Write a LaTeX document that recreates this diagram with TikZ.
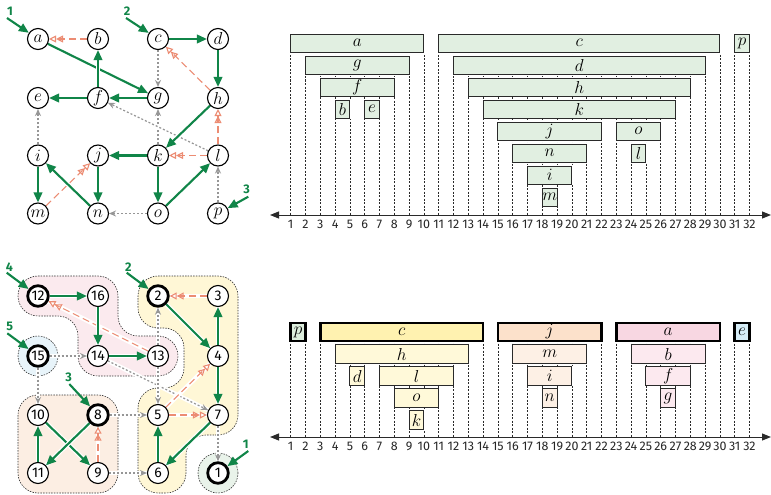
\documentclass[tikz,border=0pt]{standalone}
\usepackage{fontspec}
\setsansfont{Fira Sans}
\usetikzlibrary{arrows.meta}
\pgfdeclarelayer{regions}
\pgfdeclarelayer{edges}
\pgfsetlayers{regions,edges,main}
\definecolor{gr}{RGB}{16,133,72}
\definecolor{sal}{RGB}{236,140,115}
\definecolor{gy}{RGB}{150,150,150}
\definecolor{ink}{HTML}{2A2A2A}
\definecolor{rpink}{HTML}{FBEAEE}
\definecolor{ryel}{HTML}{FFF7D6}
\definecolor{rpeach}{HTML}{FCEEE3}
\definecolor{rblue}{HTML}{E8F4FA}
\definecolor{rgreen}{HTML}{E9F3EA}
\definecolor{tgreen}{HTML}{E1EFE1}
\definecolor{bgreen}{HTML}{DCEDDC}
\definecolor{byel}{HTML}{FFF2B0}
\definecolor{bpeach}{HTML}{FCE1CB}
\definecolor{bpink}{HTML}{F8D7E2}
\definecolor{bblue}{HTML}{D6EDF7}
\definecolor{lyel}{HTML}{FFF9D9}
\definecolor{lpeach}{HTML}{FDF0E5}
\definecolor{lpink}{HTML}{FCE9EF}
\newcommand\tbx[6]{\draw[tbar,#1] (#2,{#4-9.15}) rectangle (#3,{#4+9.15});
  \node[tlab] (#6) at ({(#2+#3)/2},#4) {$#5$};}
\begin{document}
\begin{tikzpicture}[x=1pt,y=-1pt,
  vx/.style={circle,draw=black,line width=1.1pt,fill=white,minimum size=21pt,inner sep=0pt,font=\fontsize{16}{16}\selectfont},
  nv/.style={vx,font=\sffamily\fontsize{14}{14}\selectfont},
  root/.style={nv,line width=2.8pt,minimum size=20.6pt},
  halo/.style={preaction={draw=white,line width=4.5pt,solid,-}},
  tree/.style={halo,draw=gr,line width=2.1pt,-{Triangle[length=10pt,width=8.5pt]}},
  start/.style={draw=gr,line width=2.1pt,-{Triangle[length=10pt,width=8.5pt]}},
  back/.style={halo,draw=sal,line width=1.1pt,dash pattern=on 7pt off 4pt,-{Triangle[open,length=7pt,width=7pt]Triangle[open,length=7pt,width=7pt]}},
  cross/.style={halo,draw=gy,line width=1.2pt,dash pattern=on 2pt off 2pt,-{Stealth[length=7pt,width=6pt]}},
  lbl/.style={text=gr,font=\sffamily\bfseries\fontsize{12.5}{12.5}\selectfont,inner sep=0pt},
  region/.style={draw=black!80,line width=0.6pt,dash pattern=on 1.5pt off 1.2pt},
  tbar/.style={preaction={draw=white,line width=2pt},draw=ink,line width=0.9pt,fill=tgreen},
  tlab/.style={inner sep=0pt,font=\fontsize{16}{16}\selectfont},
  rbar/.style={line width=2.6pt,draw=black},
  tdash/.style={draw=ink,line width=0.45pt,dash pattern=on 2pt off 1.5pt},
  num/.style={font=\sffamily\fontsize{12.5}{13}\selectfont,inner sep=0pt,text=black!85},
  axis/.style={line width=1pt,draw=ink,{Triangle[length=9pt,width=7pt]}-{Triangle[length=9pt,width=7pt]}}
]
\useasboundingbox (0,0) rectangle (771,495);

% ---------- top graph ----------
\foreach \n/\x/\y in {a/38/39,b/98/39,c/158/39,d/218/39,e/38/98,f/98/98,g/158/98,h/218/98,
  i/38/155.5,j/98/155.5,k/158/155.5,l/218/155.5,m/38/213.5,n/98/213.5,o/158/213.5,p/218/213.5}
  \node[vx] (\n) at (\x,\y) {$\n$};

\node[lbl] (s1l) at (10,11) {1};
\node[lbl] (s2l) at (127,11) {2};
\node[lbl] (s3l) at (246.7,189) {3};
\coordinate (s1) at (7,18);
\coordinate (s2) at (126,18);
\coordinate (s3) at (248.3,196.7);

\begin{pgfonlayer}{edges}
\draw[start] (s1) -- (a);
\draw[start] (s2) -- (c);
\draw[start] (s3) -- (p);
\draw[tree] (a) -- (g);
\draw[tree] (f) -- (b);
\draw[back] (b) -- (a);
\draw[tree] (c) -- (d);
\draw[tree] (d) -- (h);
\draw[cross] (c) -- (g);
\draw[back] (h) -- (c);
\draw[tree] (g) -- (f);
\draw[tree] (f) -- (e);
\draw[cross] (k) -- (g);
\draw[cross] (l) -- (f);
\draw[tree] (h) -- (k);
\draw[back] (l) -- (h);
\draw[back] (l) -- (k);
\draw[tree] (k) -- (j);
\draw[tree] (k) -- (o);
\draw[cross] (i) -- (e);
\draw[tree] (i) -- (m);
\draw[tree] (j) -- (n);
\draw[back] (m) -- (j);
\draw[tree] (n) -- (i);
\draw[cross] (o) -- (n);
\draw[tree] (o) -- (l);
\draw[cross] (p) -- (l);
\end{pgfonlayer}

% ---------- bottom graph ----------
\begin{pgfonlayer}{regions}
\draw[region,fill=rpink,rounded corners=20pt] (18,276) -- (118,276) -- (118,336) -- (178,336) -- (178,376) -- (78,376) -- (78,316) -- (18,316) -- cycle;
\draw[region,fill=ryel,rounded corners=20pt] (138,276) -- (238,276) -- (238,435) -- (186,435) -- (186,493) -- (138,493) -- (138,388) -- (184,388) -- (184,328) -- (138,328) -- cycle;
\draw[region,fill=rpeach,rounded corners=20pt] (18,395) rectangle (118,493);
\draw[region,fill=rblue] (38,356) circle[radius=20pt];
\draw[region,fill=rgreen] (218,473) circle[radius=20pt];
\end{pgfonlayer}

\node[root] (n12) at (38,296) {12};
\node[nv] (n16) at (98,296) {16};
\node[root] (n2) at (158,296) {2};
\node[nv] (n3) at (218,296) {3};
\node[root] (n15) at (38,356) {15};
\node[nv] (n14) at (98,356) {14};
\node[nv] (n13) at (158,356) {13};
\node[nv] (n4) at (218,356) {4};
\node[nv] (n10) at (38,415) {10};
\node[root] (n8) at (98,415) {8};
\node[nv] (n5) at (158,415) {5};
\node[nv] (n7) at (218,415) {7};
\node[nv] (n11) at (38,473) {11};
\node[nv] (n9) at (98,473) {9};
\node[nv] (n6) at (158,473) {6};
\node[root] (n1) at (218,473) {1};

\node[lbl] (t4l) at (9.3,266.7) {4};
\node[lbl] (t2l) at (128.3,266.7) {2};
\node[lbl] (t5l) at (9.7,326.7) {5};
\node[lbl] (t3l) at (68.7,377.7) {3};
\node[lbl] (t1l) at (245.8,444.5) {1};
\coordinate (t4) at (6.7,272.7);
\coordinate (t2) at (126.7,272.7);
\coordinate (t5) at (7.3,333.3);
\coordinate (t3) at (69.3,384);
\coordinate (t1) at (248.3,451);

\begin{pgfonlayer}{edges}
\draw[start] (t4) -- (n12);
\draw[start] (t2) -- (n2);
\draw[start] (t5) -- (n15);
\draw[start] (t3) -- (n8);
\draw[start] (t1) -- (n1);
\draw[tree] (n12) -- (n16);
\draw[back] (n13) -- (n12);
\draw[tree] (n16) -- (n14);
\draw[tree] (n14) -- (n13);
\draw[back] (n3) -- (n2);
\draw[tree] (n2) -- (n4);
\draw[tree] (n4) -- (n3);
\draw[tree] (n4) -- (n7);
\draw[cross] (n15) -- (n14);
\draw[cross] (n13) -- (n2);
\draw[cross] (n14) -- (n7);
\draw[cross] (n13) -- (n5);
\draw[back] (n5) -- (n4);
\draw[back] (n5) -- (n7);
\draw[cross] (n15) -- (n10);
\draw[cross] (n8) -- (n5);
\draw[tree] (n7) -- (n6);
\draw[tree] (n6) -- (n5);
\draw[cross] (n7) -- (n1);
\draw[tree] (n10) -- (n9);
\draw[tree] (n8) -- (n11);
\draw[tree] (n11) -- (n10);
\draw[back] (n9) -- (n8);
\draw[cross] (n9) -- (n6);
\end{pgfonlayer}

% ---------- timelines ----------
\coordinate (ax1a) at (270,215);
\coordinate (ax1b) at (771,215);
\coordinate (ax2a) at (270,437);
\coordinate (ax2b) at (771,437);
\draw[axis] (ax1a) -- (ax1b);
\draw[axis] (ax2a) -- (ax2b);

\begin{scope}[xshift=275.9pt,x=14.8pt]
\begin{pgfonlayer}{edges}
\foreach \t in {1,...,32} {
  \draw[tdash] (\t,34) -- (\t,215);
  \draw[tdash] (\t,322.7) -- (\t,437);
}
\end{pgfonlayer}
\foreach \t in {1,...,32} {
  \node[num] (na\t) at (\t,224.5) {\t};
  \node[num] (nb\t) at (\t,446) {\t};
}
% top timeline
\tbx{}{1}{10}{43.15}{a}{ta}
\tbx{}{2}{9}{65.15}{g}{tg}
\tbx{}{3}{8}{87.15}{f}{tf}
\tbx{}{4}{5}{109.15}{b}{tb}
\tbx{}{6}{7}{109.15}{e}{te}
\tbx{}{11}{30}{43.15}{c}{tc}
\tbx{}{12}{29}{65.15}{d}{td}
\tbx{}{13}{28}{87.15}{h}{th}
\tbx{}{14}{27}{109.15}{k}{tk}
\tbx{}{15}{22}{131.15}{j}{tj}
\tbx{}{23}{26}{131.15}{o}{to}
\tbx{}{16}{21}{153.15}{n}{tn}
\tbx{}{24}{25}{153.15}{l}{tl}
\tbx{}{17}{20}{175.15}{i}{ti}
\tbx{}{18}{19}{197.15}{m}{tm}
\tbx{}{31}{32}{43.15}{p}{tp}
% bottom timeline
\tbx{rbar,fill=bgreen}{1}{2}{332}{p}{bp}
\tbx{rbar,fill=byel}{3}{14}{332}{c}{bc}
\tbx{rbar,fill=bpeach}{15}{22}{332}{j}{bj}
\tbx{rbar,fill=bpink}{23}{30}{332}{a}{ba}
\tbx{rbar,fill=bblue}{31}{32}{332}{e}{be}
\tbx{fill=lyel}{4}{13}{354}{h}{bh}
\tbx{fill=lpeach}{16}{21}{354}{m}{bm}
\tbx{fill=lpink}{24}{29}{354}{b}{bb}
\tbx{fill=lyel}{5}{6}{376}{d}{bd}
\tbx{fill=lyel}{7}{12}{376}{l}{bl}
\tbx{fill=lpeach}{17}{20}{376}{i}{bi}
\tbx{fill=lpink}{25}{28}{376}{f}{bf}
\tbx{fill=lyel}{8}{11}{398}{o}{bo}
\tbx{fill=lpeach}{18}{19}{398}{n}{bn}
\tbx{fill=lpink}{26}{27}{398}{g}{bg}
\tbx{fill=lyel}{9}{10}{420}{k}{bk}
\end{scope}
\end{tikzpicture}
\end{document}
